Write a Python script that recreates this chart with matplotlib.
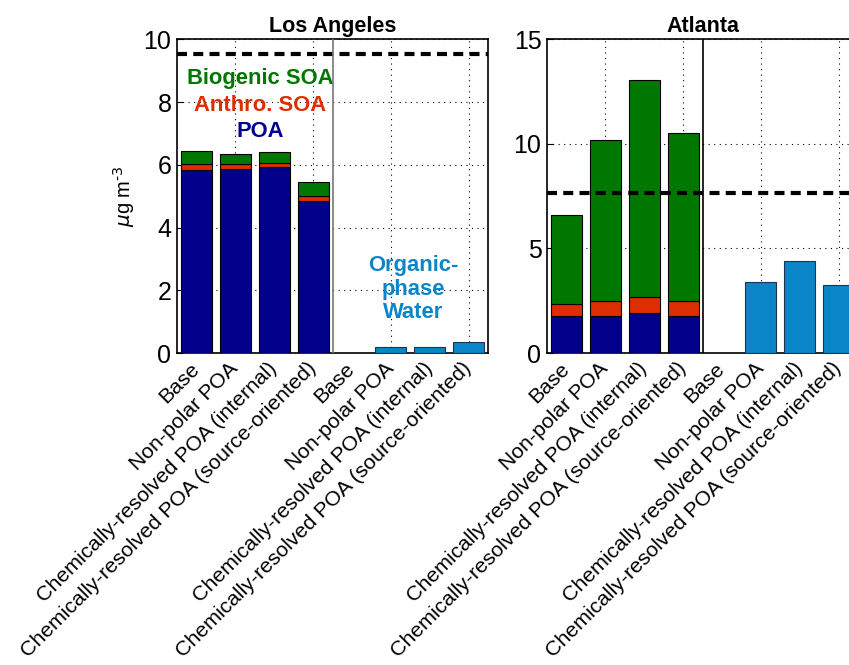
import numpy as np
import matplotlib
matplotlib.use("Agg")
import matplotlib.pyplot as plt

plt.rcParams['font.family'] = ['Liberation Sans', 'DejaVu Sans']

cases = ['Base', 'Non-polar POA', 'Chemically-resolved POA (internal)',
         'Chemically-resolved POA (source-oriented)']
labels = cases + cases

# Los Angeles (ug m-3)
la_poa = [5.84, 5.86, 5.92, 4.86]
la_anthro = [0.18, 0.16, 0.14, 0.15]
la_bio = [0.42, 0.33, 0.36, 0.43]
la_water = [0.0, 0.19, 0.19, 0.35]
la_obs = 9.52

# Atlanta (ug m-3)
atl_poa = [1.78, 1.78, 1.94, 1.78]
atl_anthro = [0.58, 0.72, 0.75, 0.72]
atl_bio = [4.22, 7.68, 10.35, 8.01]
atl_water = [0.0, 3.39, 4.39, 3.26]
atl_obs = 7.64

c_poa = '#00008b'
c_anthro = '#dd2e00'
c_bio = '#007800'
c_water = '#0a85c8'

fig = plt.figure(figsize=(8.49, 6.65), dpi=100)
ax1 = fig.add_axes([0.2085, 0.469, 0.3663, 0.472])
ax2 = fig.add_axes([0.6443, 0.469, 0.3663, 0.472])


def draw(ax, poa, anthro, bio, water, obs, title, ymax, yticks, sepcol):
    x = np.arange(1, 5)
    poa = np.array(poa)
    anthro = np.array(anthro)
    ax.bar(x, poa, 0.8, color=c_poa, edgecolor='black', linewidth=0.8, zorder=3)
    ax.bar(x, anthro, 0.8, bottom=poa, color=c_anthro, edgecolor='black',
           linewidth=0.8, zorder=3)
    ax.bar(x, bio, 0.8, bottom=poa + anthro, color=c_bio, edgecolor='black',
           linewidth=0.8, zorder=3)
    ax.bar(x + 4, water, 0.8, color=c_water, edgecolor='#1a3550', linewidth=0.8,
           zorder=3)
    ax.axhline(obs, color='black', linestyle=(0, (2.4, 1.5)), linewidth=3,
               zorder=4)
    ax.axvline(4.5, color=sepcol, linewidth=1.2, zorder=4)
    ax.set_xlim(0.5, 8.5)
    ax.set_ylim(0, ymax)
    ax.set_yticks(yticks)
    ax.set_xticks(np.arange(1, 9))
    ax.set_xticklabels(labels, rotation=45, ha='right', va='center',
                       rotation_mode='anchor', fontsize=15.3)
    ax.tick_params(axis='x', which='major', length=0, pad=9)
    ax.tick_params(axis='y', direction='in', length=4, labelsize=18, pad=4)
    ax.grid(True, axis='y', linestyle=(0, (1, 4)), color='black',
            linewidth=0.8, zorder=0)
    # vertical grid every second position
    for g in [2, 4, 6, 8]:
        ax.axvline(g, linestyle=(0, (1, 4)), color='black', linewidth=0.8,
                   zorder=0)
        ax.plot([g, g], [0, ymax * 0.012], color='black', linewidth=0.8,
                zorder=2)
    for s in ax.spines.values():
        s.set_linewidth(1.2)
    ax.set_title(title, fontsize=15.5, fontweight='bold', pad=5)


draw(ax1, la_poa, la_anthro, la_bio, la_water, la_obs, 'Los Angeles', 10,
     [0, 2, 4, 6, 8, 10], '#777777')
draw(ax2, atl_poa, atl_anthro, atl_bio, atl_water, atl_obs, 'Atlanta', 15,
     [0, 5, 10, 15], 'black')

ax1.set_ylabel(r'$\mu$g m$^{\text{-3}}$', fontsize=14.5, labelpad=5)

ax1.text(2.63, 8.76, 'Biogenic SOA', color=c_bio, fontsize=15.8,
         fontweight='bold', ha='center', va='center')
ax1.text(2.63, 7.90, 'Anthro. SOA', color=c_anthro, fontsize=15.8,
         fontweight='bold', ha='center', va='center')
ax1.text(2.63, 7.07, 'POA', color=c_poa, fontsize=15.8,
         fontweight='bold', ha='center', va='center')
ax1.text(6.57, 2.04, 'Organic-\nphase\nWater', color=c_water, fontsize=15.8,
         fontweight='bold', ha='center', va='center', linespacing=1.15)

fig.savefig('out.png', dpi=100)
